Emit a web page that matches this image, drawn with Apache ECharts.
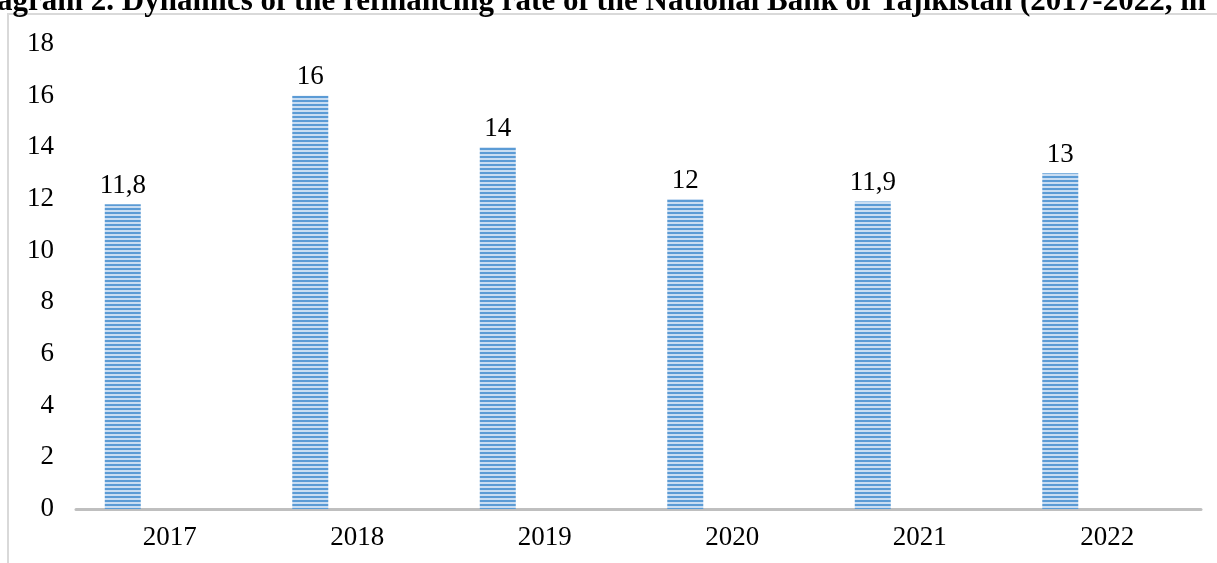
<!DOCTYPE html>
<html>
<head>
<meta charset="utf-8">
<script src="https://cdn.jsdelivr.net/npm/echarts@6/dist/echarts.min.js"></script>
<style>
  html, body { margin: 0; padding: 0; background: #fff; }
  #chart { width: 1217px; height: 563px; }
</style>
</head>
<body>
<div id="chart"></div>
<script>
// data
var years = ["2017", "2018", "2019", "2020", "2021", "2022"];
var rates = [11.8, 16, 14, 12, 11.9, 13];
// second (empty) series of the original Excel chart, keeps the bars shifted left
var emptySeries = [null, null, null, null, null, null];
var yTicks = { min: 0, max: 18, interval: 2 };

var serif = "'Liberation Serif', 'Times New Roman', serif";

// horizontal stripes pattern
var stripe = document.createElement("canvas");
stripe.width = 4;
stripe.height = 4;
var ctx = stripe.getContext("2d");
ctx.fillStyle = "#c9ddf2";
ctx.fillRect(0, 0, 4, 4);
ctx.fillStyle = "#5b9bd5";
ctx.fillRect(0, 0, 4, 2);

var chart = echarts.init(document.getElementById("chart"));
var option = {
  backgroundColor: "#fff",
  animation: false,
  graphic: [
    {
      type: "rect",
      z: 0,
      shape: { x: 8, y: 14, width: 1300, height: 700 },
      style: { fill: null, stroke: "#d9d9d9", lineWidth: 2 }
    },
    {
      type: "text",
      z: 10,
      x: -3,
      y: -14,
      style: {
        text: "agram 2. Dynamics of the refinancing rate of the National Bank of Tajikistan (2017-2022, in",
        fontFamily: serif,
        fontWeight: "bold",
        fontSize: 31,
        fill: "#000"
      }
    }
  ],
  grid: {
    left: 76,
    right: 16,
    top: 44,
    bottom: 54
  },
  xAxis: {
    type: "category",
    data: years,
    axisLine: { lineStyle: { color: "#bfbfbf", width: 3 } },
    axisTick: { show: false },
    axisLabel: {
      color: "#000",
      fontFamily: serif,
      fontSize: 27,
      margin: 15
    }
  },
  yAxis: {
    type: "value",
    min: yTicks.min,
    max: yTicks.max,
    interval: yTicks.interval,
    axisLine: { show: false },
    axisTick: { show: false },
    splitLine: { show: false },
    axisLabel: {
      color: "#000",
      fontFamily: serif,
      fontSize: 27,
      margin: 22
    }
  },
  series: [
    {
      name: "rate",
      type: "bar",
      data: rates,
      barWidth: 36,
      barGap: "161%",
      itemStyle: {
        color: { image: stripe, repeat: "repeat" }
      },
      label: {
        show: true,
        position: "top",
        distance: 5,
        color: "#000",
        fontFamily: serif,
        fontSize: 27,
        formatter: function (p) {
          return String(p.value).replace(".", ",");
        }
      }
    },
    {
      name: "empty",
      type: "bar",
      data: emptySeries,
      barWidth: 36
    }
  ]
};
chart.setOption(option, true);
</script>
</body>
</html>
